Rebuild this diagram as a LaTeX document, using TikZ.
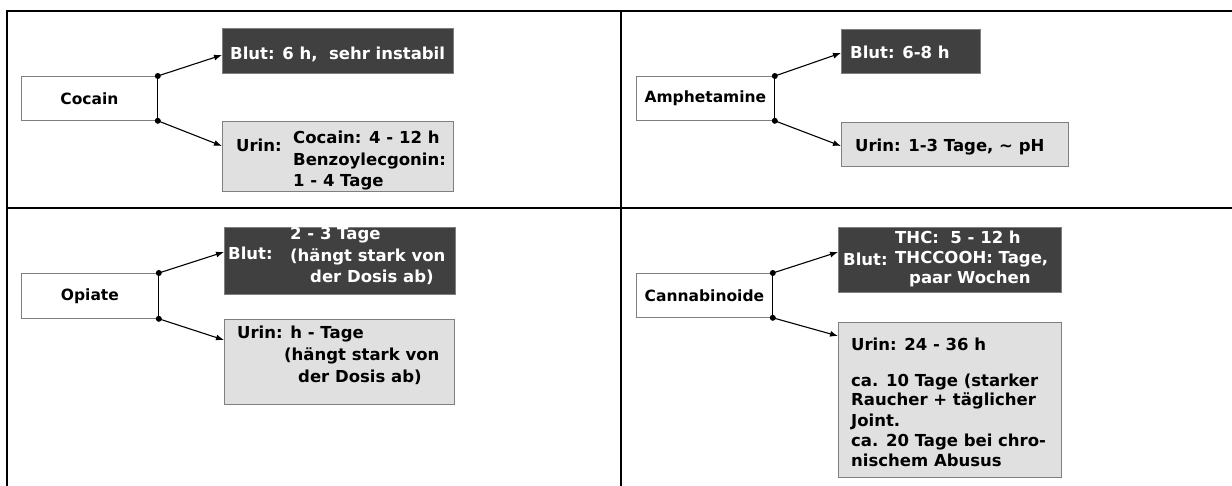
\documentclass[tikz,border=0pt]{standalone}
\usepackage{fontspec}
\setmainfont{DejaVu Sans}
\usetikzlibrary{arrows.meta,calc}
\definecolor{darkbox}{HTML}{404040}
\definecolor{lightbox}{HTML}{E0E0E0}
\definecolor{boxline}{HTML}{7F7F7F}
\tikzset{
  frame/.style={line width=2.5pt, black},
  drugbox/.style={draw=boxline, fill=white, line width=0.8pt, inner sep=0pt,
    anchor=north west, font=\bfseries\fontsize{15.5}{18}\selectfont},
  blutbox/.style={draw=boxline, fill=darkbox, line width=0.8pt, inner sep=0pt, anchor=north west},
  urinbox/.style={draw=boxline, fill=lightbox, line width=0.8pt, inner sep=0pt, anchor=north west},
  wtxt/.style={anchor=base west, inner sep=0pt, text=white, font=\bfseries\fontsize{16.5}{20}\selectfont},
  btxt/.style={anchor=base west, inner sep=0pt, text=black, font=\bfseries\fontsize{16.5}{20}\selectfont},
  conn/.style={line width=1.1pt, -{Latex[length=8pt,width=6pt]}},
  edge/.style={line width=1.1pt, black},
  dot/.style={circle, fill=black, inner sep=0pt, minimum size=6pt},
}
\begin{document}
\begin{tikzpicture}[x=1pt, y=-1pt]
\useasboundingbox (0,0) rectangle (1232,486);
% table frame
\coordinate (tl) at (7,11);
\coordinate (tr) at (1232,11);
\coordinate (bl) at (7,486);
\coordinate (ml) at (7,208);
\coordinate (mr) at (1232,208);
\coordinate (mt) at (621,11);
\coordinate (mb) at (621,486);
\draw[frame] (bl) -- (tl) -- (tr);
\draw[frame] (ml) -- (mr);
\draw[frame] (mt) -- (mb);

% ---------- Cocain ----------
\node[drugbox, minimum width=136pt, minimum height=44pt] (coc) at (21,76) {Cocain};
\node[blutbox, minimum width=231pt, minimum height=45pt] (cocB) at (222,28) {};
\node[urinbox, minimum width=231pt, minimum height=70pt] (cocU) at (222,121) {};
\node[wtxt] (cocBt) at (230,60) {Blut: 6 h,\ \ sehr instabil};
\node[btxt] (cocU1) at (236,152) {Urin:};
\node[btxt] (cocU2) at (293,144) {Cocain: 4 - 12 h};
\node[btxt] (cocU3) at (293,166) {Benzoylecgonin:};
\node[btxt] (cocU4) at (293,187) {1 - 4 Tage};
\draw[edge] (coc.north east) -- (coc.south east);
\node[dot] (cocd1) at (coc.north east) {};
\node[dot] (cocd2) at (coc.south east) {};
\draw[conn] (cocd1.center) -- (cocB.west |- 0,55);
\draw[conn] (cocd2.center) -- (cocU.west |- 0,146);

% ---------- Amphetamine ----------
\node[drugbox, minimum width=138pt, minimum height=44pt] (amp) at (636,76) {Amphetamine};
\node[blutbox, minimum width=139pt, minimum height=44pt] (ampB) at (841,29) {};
\node[urinbox, minimum width=227pt, minimum height=44pt] (ampU) at (841,122) {};
\node[wtxt] (ampBt) at (850,59) {Blut: 6-8 h};
\node[btxt] (ampUt) at (855,152) {Urin: 1-3 Tage, \textasciitilde{} pH};
\draw[edge] (amp.north east) -- (amp.south east);
\node[dot] (ampd1) at (amp.north east) {};
\node[dot] (ampd2) at (amp.south east) {};
\draw[conn] (ampd1.center) -- (ampB.west |- 0,53);
\draw[conn] (ampd2.center) -- (ampU.west |- 0,146);

% ---------- Opiate ----------
\node[drugbox, minimum width=137pt, minimum height=45pt] (opi) at (21,273) {Opiate};
\node[blutbox, minimum width=231pt, minimum height=67pt] (opiB) at (224,227) {};
\node[urinbox, minimum width=230pt, minimum height=85pt] (opiU) at (224,319) {};
\node[wtxt] (opiB0) at (228,260) {Blut:};
\node[wtxt] (opiB1) at (290,240) {2 - 3 Tage};
\node[wtxt] (opiB2) at (290,262) {(hängt stark von};
\node[wtxt] (opiB3) at (310,283) {der Dosis ab)};
\node[btxt] (opiU1) at (237,339) {Urin: h - Tage};
\node[btxt] (opiU2) at (284,361) {(hängt stark von};
\node[btxt] (opiU3) at (298,382) {der Dosis ab)};
\draw[edge] (opi.north east) -- (opi.south east);
\node[dot] (opid1) at (opi.north east) {};
\node[dot] (opid2) at (opi.south east) {};
\draw[conn] (opid1.center) -- (opiB.west |- 0,252);
\draw[conn] (opid2.center) -- (opiU.west |- 0,340);

% ---------- Cannabinoide ----------
\node[drugbox, minimum width=136pt, minimum height=44pt] (can) at (636,273) {Cannabinoide};
\node[blutbox, minimum width=223pt, minimum height=65pt] (canB) at (838,227) {};
\node[urinbox, minimum width=223pt, minimum height=155pt] (canU) at (838,322) {};
\node[wtxt] (canB0) at (843,266) {Blut:};
\node[wtxt] (canB1) at (895,244) {THC:\ \ 5 - 12 h};
\node[wtxt] (canB2) at (895,264) {THCCOOH: Tage,};
\node[wtxt] (canB3) at (909,284) {paar Wochen};
\node[btxt] (canU1) at (851,351) {Urin: 24 - 36 h};
\node[btxt] (canU2) at (851,386) {ca. 10 Tage (starker};
\node[btxt] (canU3) at (851,406) {Raucher + täglicher};
\node[btxt] (canU4) at (851,426) {Joint.};
\node[btxt] (canU5) at (851,446) {ca. 20 Tage bei chro-};
\node[btxt] (canU6) at (851,466) {nischem Abusus};
\draw[edge] (can.north east) -- (can.south east);
\node[dot] (cand1) at (can.north east) {};
\node[dot] (cand2) at (can.south east) {};
\draw[conn] (cand1.center) -- (canB.west |- 0,252);
\draw[conn] (cand2.center) -- (canU.west |- 0,336);
\end{tikzpicture}
\end{document}
